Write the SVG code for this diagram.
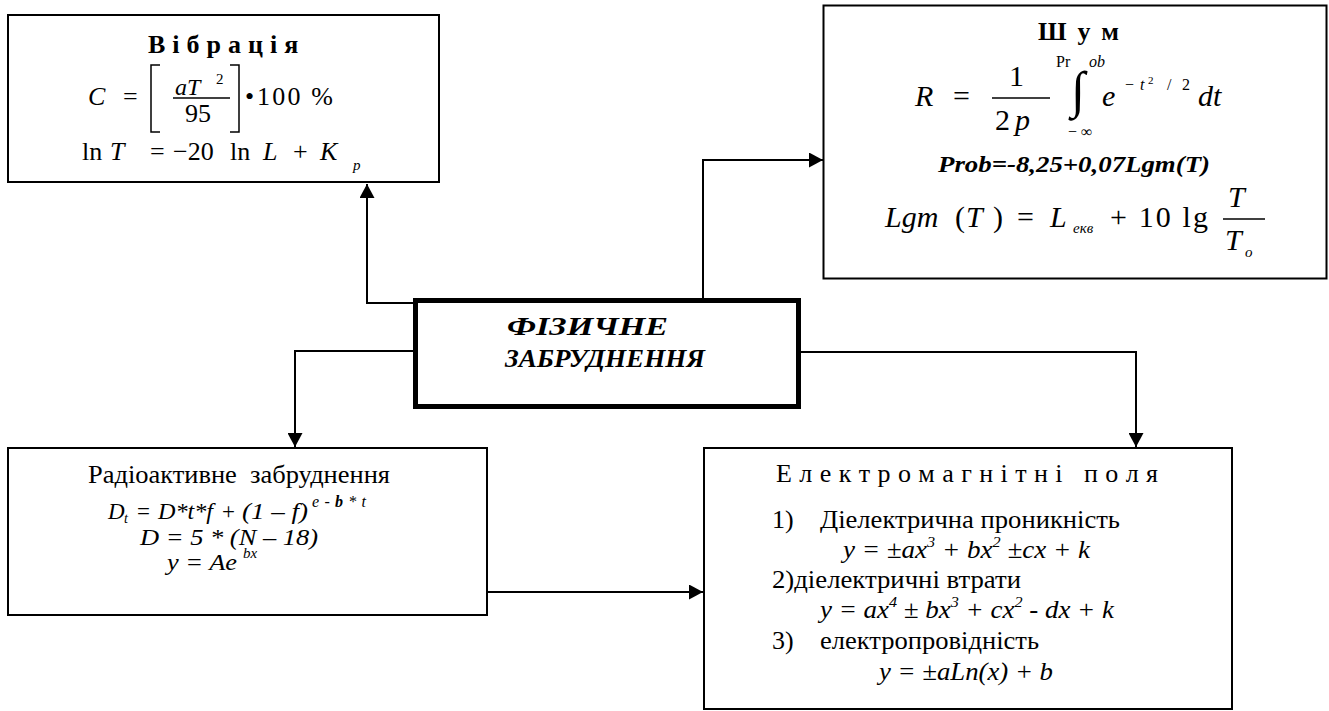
<svg xmlns="http://www.w3.org/2000/svg" width="1329" height="711" viewBox="0 0 1329 711" font-family="Liberation Serif, serif">
<style>
text{font-family:"Liberation Serif",serif;fill:#000}
.i{font-style:italic}
.b{font-weight:bold}
.box{fill:#fff;stroke:#000;stroke-width:2}
.main{fill:#fff;stroke:#000;stroke-width:5}
.c{fill:none;stroke:#000;stroke-width:2}
.ln{fill:none;stroke:#000;stroke-width:1.5}
</style>
<defs>
<marker id="arr" viewBox="0 0 14 15" refX="14" refY="7.5" markerWidth="14" markerHeight="15" orient="auto" markerUnits="userSpaceOnUse">
<path d="M0,0 L14,7.5 L0,15 z" fill="#000"/>
</marker>
</defs>
<rect width="1329" height="711" fill="#fff"/>

<g id="connectors">
<path class="c" d="M413,303 H367 V184" marker-end="url(#arr)"/>
<path class="c" d="M703,298 V160 H823" marker-end="url(#arr)"/>
<path class="c" d="M413,351 H295 V447" marker-end="url(#arr)"/>
<path class="c" d="M801,352 H1136 V447" marker-end="url(#arr)"/>
<path class="c" d="M487,592 H703" marker-end="url(#arr)"/>
</g>

<g id="vibration">
<rect class="box" x="8" y="15" width="431" height="167"/>
<text class="b" x="148" y="53" font-size="26" letter-spacing="7">Вібрація</text>
<text class="i" x="88" y="105" font-size="26">C</text>
<text x="123" y="105" font-size="26">=</text>
<path class="ln" d="M160,65 H151 V132 H160"/>
<text class="i" x="175" y="95" font-size="24">aT</text>
<text x="216" y="84" font-size="15">2</text>
<line class="ln" x1="173" y1="98" x2="230" y2="98"/>
<text x="185" y="122" font-size="26">95</text>
<path class="ln" d="M230,65 H239 V132 H230"/>
<text x="245" y="105" font-size="26">•</text>
<text x="257" y="105" font-size="26" textLength="76" lengthAdjust="spacing">100 %</text>
<text y="160" font-size="26"><tspan x="82">ln</tspan><tspan class="i" x="110">T</tspan><tspan x="150">=</tspan><tspan x="173">−20</tspan><tspan x="230">ln</tspan><tspan class="i" x="263">L</tspan><tspan x="293">+</tspan><tspan class="i" x="320">K</tspan></text>
<text class="i" x="353" y="170" font-size="15">p</text>
</g>

<g id="noise">
<rect class="box" x="823.5" y="5.5" width="503" height="273"/>
<text class="b" x="1038" y="40" font-size="26" letter-spacing="11">Шум</text>
<text class="i" x="915" y="106" font-size="30">R</text>
<text x="953" y="106" font-size="30">=</text>
<text x="1009" y="86" font-size="30">1</text>
<line class="ln" x1="992" y1="98" x2="1050" y2="98"/>
<text x="995" y="130" font-size="30">2</text>
<text class="i" x="1015" y="130" font-size="30">p</text>
<text x="1056" y="67" font-size="16">Pr</text>
<text class="i" x="1089" y="67" font-size="16">ob</text>
<text x="1071" y="107" font-size="51">∫</text>
<text x="1068" y="137" font-size="16">− ∞</text>
<text class="i" x="1102" y="106" font-size="30">e</text>
<text x="1125" y="90" font-size="16">−</text>
<text class="i" x="1140" y="90" font-size="16">t</text>
<text x="1148" y="84" font-size="11">2</text>
<text x="1167" y="90" font-size="16">/</text>
<text x="1182" y="90" font-size="16">2</text>
<text class="i" x="1198" y="106" font-size="30">dt</text>
<text class="b i" x="938" y="172" font-size="24" textLength="272" lengthAdjust="spacingAndGlyphs">Prob=-8,25+0,07Lgm(T)</text>
<text class="i" x="885" y="227" font-size="30">Lgm</text>
<text x="955" y="227" font-size="30">(</text>
<text class="i" x="966" y="227" font-size="30">T</text>
<text x="993" y="227" font-size="30">)</text>
<text x="1017" y="227" font-size="30">=</text>
<text class="i" x="1050" y="227" font-size="30">L</text>
<text class="i" x="1073" y="233" font-size="15">екв</text>
<text x="1110" y="227" font-size="30" textLength="98" lengthAdjust="spacing">+ 10 lg</text>
<text class="i" x="1228" y="207" font-size="30">T</text>
<line class="ln" x1="1223" y1="219" x2="1265" y2="219"/>
<text class="i" x="1225" y="250" font-size="30">T</text>
<text class="i" x="1245" y="257" font-size="15">o</text>
</g>

<g id="physical">
<rect class="main" x="415.5" y="300.5" width="383" height="106"/>
<text class="b i" x="507" y="335" font-size="26" textLength="161" lengthAdjust="spacingAndGlyphs">ФІЗИЧНЕ</text>
<text class="b i" x="505" y="367" font-size="26" textLength="200" lengthAdjust="spacingAndGlyphs">ЗАБРУДНЕННЯ</text>
</g>

<g id="radio">
<rect class="box" x="8" y="448" width="479" height="167"/>
<text x="88" y="483" font-size="26" textLength="302" lengthAdjust="spacingAndGlyphs">Радіоактивне&#160; забруднення</text>
<text class="i" x="108" y="519" font-size="23">D</text>
<text class="i" x="124" y="523" font-size="14">t</text>
<text x="137" y="519" font-size="23">=</text>
<text class="i" x="158" y="519" font-size="23" textLength="55" lengthAdjust="spacingAndGlyphs">D*t*f</text>
<text x="222" y="519" font-size="23">+</text>
<text class="i" x="242" y="519" font-size="23" textLength="66" lengthAdjust="spacingAndGlyphs">(1 – f)</text>
<text class="i" x="312" y="507" font-size="16" textLength="54" lengthAdjust="spacing">e-<tspan class="b">b</tspan>*t</text>
<text class="i" x="140" y="545" font-size="23" textLength="178" lengthAdjust="spacingAndGlyphs">D = 5 * (N – 18)</text>
<text class="i" x="167" y="570" font-size="23" textLength="70" lengthAdjust="spacingAndGlyphs">y = Ae</text>
<text class="i" x="243" y="558" font-size="15">bx</text>
</g>

<g id="em">
<rect class="box" x="704" y="448" width="528" height="261"/>
<text x="776" y="482" font-size="26" textLength="382" lengthAdjust="spacing">Е л е к т р о м а г н і т н і&#160;&#160; п о л я</text>
<text x="772" y="528" font-size="26">1)</text>
<text x="820" y="528" font-size="26" textLength="300" lengthAdjust="spacingAndGlyphs">Діелектрична проникність</text>
<text class="i" x="843" y="558" font-size="25" textLength="247" lengthAdjust="spacingAndGlyphs">y = ±ax<tspan font-size="15" dy="-11">3</tspan><tspan dy="11"> + bx</tspan><tspan font-size="15" dy="-11">2</tspan><tspan dy="11"> ±cx + k</tspan></text>
<text x="772" y="588" font-size="26" textLength="249" lengthAdjust="spacingAndGlyphs">2)діелектричні втрати</text>
<text class="i" x="820" y="618" font-size="25" textLength="294" lengthAdjust="spacingAndGlyphs">y = ax<tspan font-size="15" dy="-11">4</tspan><tspan dy="11"> ± bx</tspan><tspan font-size="15" dy="-11">3</tspan><tspan dy="11"> + cx</tspan><tspan font-size="15" dy="-11">2</tspan><tspan dy="11"> - dx + k</tspan></text>
<text x="772" y="649" font-size="26">3)</text>
<text x="820" y="649" font-size="26" textLength="219" lengthAdjust="spacingAndGlyphs">електропровідність</text>
<text class="i" x="879" y="680" font-size="25" textLength="174" lengthAdjust="spacingAndGlyphs">y = ±aLn(x) + b</text>
</g>
</svg>
